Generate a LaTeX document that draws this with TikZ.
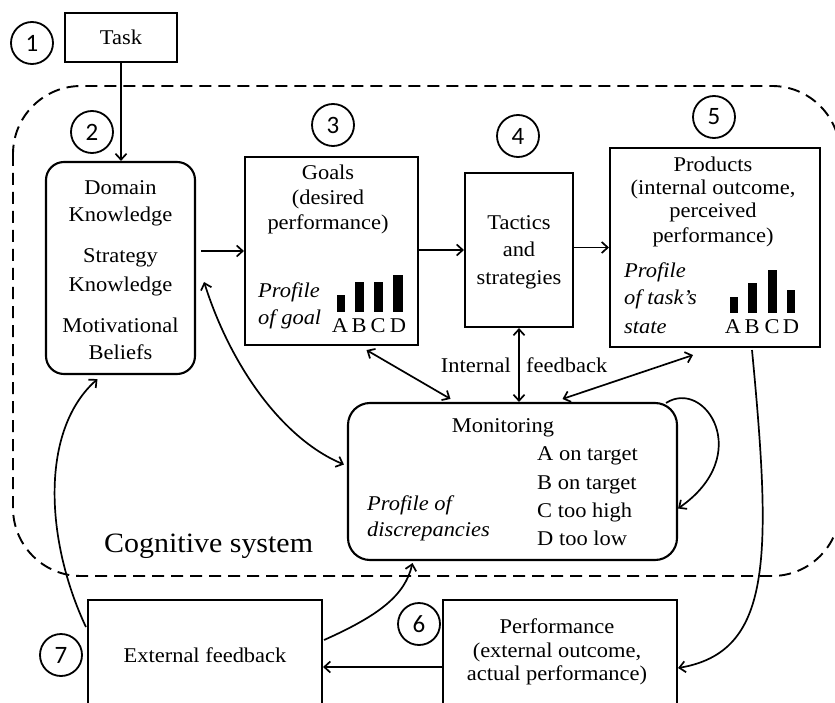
\documentclass[tikz,border=0pt]{standalone}
\usepackage{fontspec}
\usetikzlibrary{arrows.meta,calc}
\newfontfamily\diagserif[FakeStretch=1.07]{Liberation Serif}
\newfontfamily\diagnum{Carlito}
\begin{document}
\begin{tikzpicture}[x=1pt,y=-1pt,
  box/.style={draw,line width=2.1pt,inner sep=0pt},
  rbox/.style={box,rounded corners=18pt},
  circ/.style={draw,circle,line width=1.8pt,minimum size=42pt,inner sep=0pt,font=\diagnum\fontsize{25}{25}\selectfont},
  txt/.style={anchor=base,inner sep=0pt,font=\diagserif\fontsize{21}{24}\selectfont},
  itxt/.style={anchor=base west,inner sep=0pt,font=\diagserif\itshape\fontsize{21}{24}\selectfont},
  arr/.style={line width=1.7pt,-{Straight Barb[length=6pt,width=11pt]}},
  darr/.style={line width=1.7pt,{Straight Barb[length=6pt,width=11pt]}-{Straight Barb[length=6pt,width=11pt]}}
]
\useasboundingbox (0,0) rectangle (835,703);
\begin{scope}
\clip (0,0) rectangle (835,703);
% cognitive system boundary
\draw[dash pattern=on 12pt off 7pt, line width=1.9pt, rounded corners=68pt] (13,86) rectangle (840,576);
\node[anchor=base west,inner sep=0pt,font=\diagserif\fontsize{28}{32}\selectfont] (cog) at (104,552) {Cognitive system};

% boxes
\node[box,minimum width=112pt,minimum height=49pt] (task) at (121,37.5) {};
\node[rbox,minimum width=149pt,minimum height=212pt] (domain) at (120.5,268) {};
\node[box,minimum width=173pt,minimum height=188pt] (goals) at (331.5,251) {};
\node[box,minimum width=108pt,minimum height=154pt] (tactics) at (519,250) {};
\node[box,minimum width=210pt,minimum height=199pt] (products) at (715,247.5) {};
\node[box,rounded corners=22pt,minimum width=329pt,minimum height=157pt] (monitoring) at (512.5,481.5) {};
\node[box,minimum width=234pt,minimum height=120pt] (performance) at (560,660) {};
\node[box,minimum width=234pt,minimum height=120pt] (extfb) at (205,660) {};

% circles
\node[circ] (c1) at (32,43) {1};
\node[circ] (c2) at (92,132) {2};
\node[circ] (c3) at (333,125) {3};
\node[circ] (c4) at (518,136) {4};
\node[circ] (c5) at (714,117) {5};
\node[circ] (c6) at (419,624) {6};
\node[circ] (c7) at (61,655) {7};

% texts
\node[txt] (ttask) at (121,45) {Task};
\node[txt] (td1) at (120.5,195) {Domain};
\node[txt] (td2) at (120.5,222) {Knowledge};
\node[txt] (td3) at (120.5,263) {Strategy};
\node[txt] (td4) at (120.5,291) {Knowledge};
\node[txt] (td5) at (120.5,332) {Motivational};
\node[txt] (td6) at (120.5,359) {Beliefs};

\node[txt] (tg1) at (328,180) {Goals};
\node[txt] (tg2) at (328,205) {(desired};
\node[txt] (tg3) at (328,230) {performance)};
\node[itxt] (tg4) at (258,298) {Profile};
\node[itxt] (tg5) at (258,324) {of goal};
\fill (337,295) rectangle (345,312);
\fill (355,282) rectangle (364,312);
\fill (374,282) rectangle (383,312);
\fill (393,275) rectangle (403,312);
\node[txt] (ga) at (340,332) {A};
\node[txt] (gb) at (359,332) {B};
\node[txt] (gc) at (378,332) {C};
\node[txt] (gd) at (398,332) {D};

\node[txt] (tt1) at (519,230) {Tactics};
\node[txt] (tt2) at (519,257) {and};
\node[txt] (tt3) at (519,285) {strategies};

\node[txt] (tp1) at (713,172) {Products};
\node[txt] (tp2) at (713,195) {(internal outcome,};
\node[txt] (tp3) at (713,218) {perceived};
\node[txt] (tp4) at (713,243) {performance)};
\node[itxt] (tp5) at (624,278) {Profile};
\node[itxt] (tp6) at (624,305) {of task’s};
\node[itxt] (tp7) at (624,334) {state};
\fill (730,297) rectangle (738,313);
\fill (748,283) rectangle (757,313);
\fill (768,270) rectangle (777,313);
\fill (787,290) rectangle (795,313);
\node[txt] (pa) at (733,334) {A};
\node[txt] (pb) at (752,334) {B};
\node[txt] (pc) at (772,334) {C};
\node[txt] (pd) at (791,334) {D};

\node[txt] (tm1) at (503,432) {Monitoring};
\node[txt,anchor=base west] (tm2) at (537,460) {A on target};
\node[txt,anchor=base west] (tm3) at (537,489) {B on target};
\node[txt,anchor=base west] (tm4) at (537,517) {C too high};
\node[txt,anchor=base west] (tm5) at (537,545) {D too low};
\node[itxt] (tm6) at (367,510) {Profile of};
\node[itxt] (tm7) at (367,536) {discrepancies};

\node[txt,anchor=base east] (if1) at (511,372) {Internal};
\node[txt,anchor=base west] (if2) at (526,372) {feedback};

\node[txt] (tpf1) at (557,633) {Performance};
\node[txt] (tpf2) at (557,657) {(external outcome,};
\node[txt] (tpf3) at (557,680) {actual performance)};
\node[txt] (te1) at (205,662) {External feedback};

% connectors
\draw[arr] (task.south) -- (task.south |- domain.north);
\draw[arr] ([xshift=5pt]domain.east |- goals.west) -- (goals.west);
\draw[arr] (goals.east |- tactics.west) -- (tactics.west);
\draw[arr] (tactics.east |- products.west) -- (products.west);
\draw[darr] ([shift={(35,4)}]goals.south) -- ([shift={(-62,-3)}]monitoring.north);
\draw[darr] (tactics.south) -- (tactics.south |- monitoring.north);
\draw[darr] ([shift={(-22,7)}]products.south) -- ([shift={(50,-3)}]monitoring.north);
\draw[arr] ([shift={(-12,1)}]monitoring.north east) .. controls (705,378) and (755,455) .. ([yshift=-27pt]monitoring.east);
\draw[darr] ([shift={(8,14)}]domain.east) .. controls (232,370) and (285,440) .. ([shift={(-3,-17)}]monitoring.west);
\draw[arr] ([shift={(37,2)}]products.south) .. controls (772,560) and (772,652) .. ([yshift=-8pt]performance.east);
\draw[arr] ([yshift=-7pt]performance.west) -- ([yshift=-7pt]extfb.east);
\draw[arr] ([shift={(1,-20)}]extfb.east) .. controls (380,615) and (405,595) .. ([shift={(-100,2)}]monitoring.south);
\draw[arr] ([shift={(-1,-33)}]extfb.west) .. controls (45,540) and (40,430) .. ([shift={(-23,4)}]domain.south);
\end{scope}
\end{tikzpicture}
\end{document}
